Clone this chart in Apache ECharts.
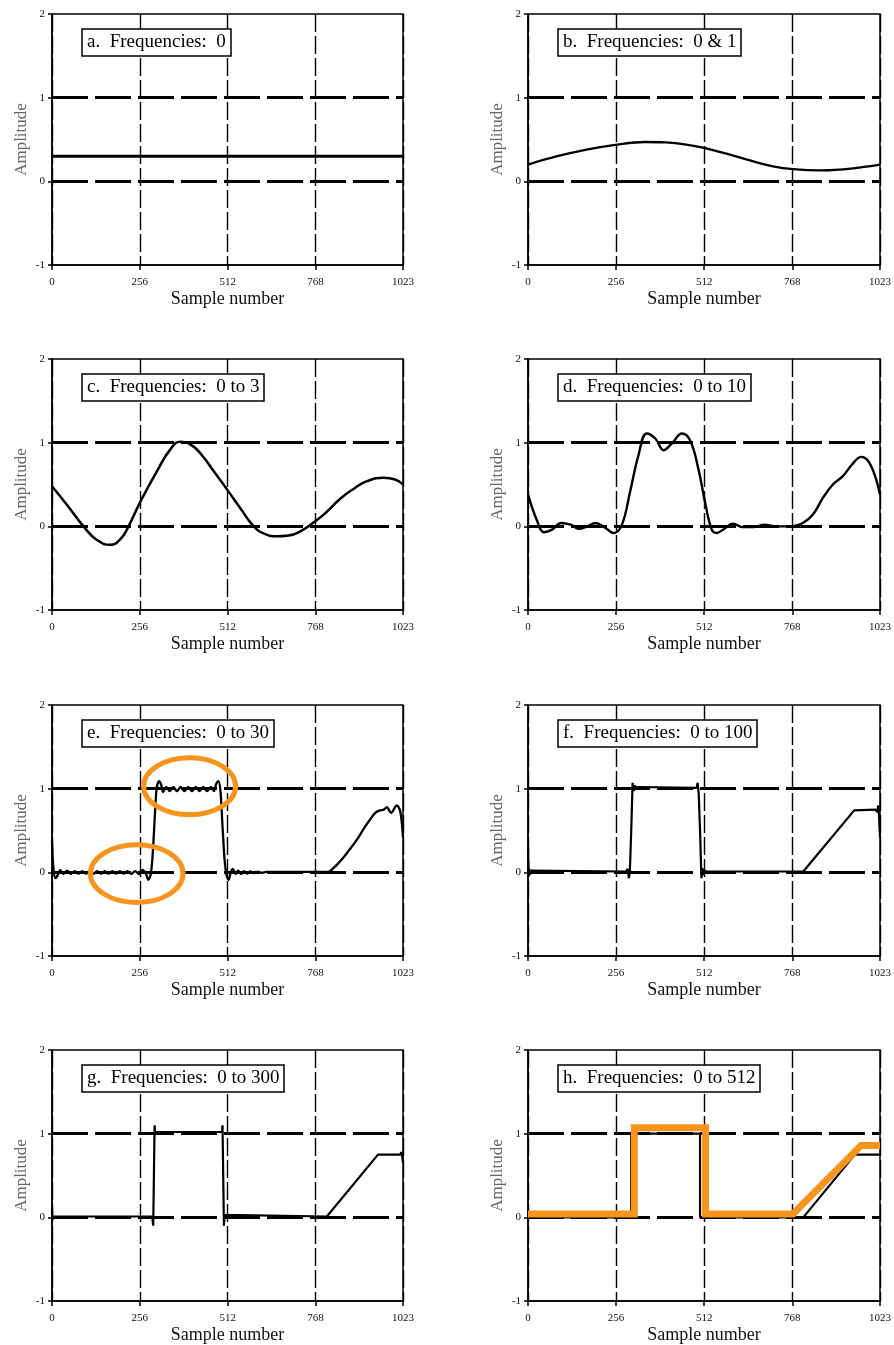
<!DOCTYPE html>
<html><head><meta charset="utf-8">
<script src="https://cdn.jsdelivr.net/npm/echarts@6/dist/echarts.min.js"></script>
<style>html,body{margin:0;padding:0;background:#fff}#c{width:894px;height:1345px}</style>
</head><body><div id="c"></div>
<script>
// ---- data ----
const xTickValues = [0, 256, 512, 768, 1023];
const yTickValues = [-1, 0, 1, 2];
const referenceLevels = [0, 1];
const panelTitles = [
  'a.  Frequencies:  0', 'b.  Frequencies:  0 & 1',
  'c.  Frequencies:  0 to 3', 'd.  Frequencies:  0 to 10',
  'e.  Frequencies:  0 to 30', 'f.  Frequencies:  0 to 100',
  'g.  Frequencies:  0 to 300', 'h.  Frequencies:  0 to 512'
];
const sigA = [[0,0.30],[256,0.30],[512,0.30],[768,0.30],[1023,0.30]];
const sigB = [[0,0.20],[85,0.30],[170,0.38],[259,0.44],[340,0.47],[400,0.465],[460,0.44],[512,0.40],[577,0.33],[645,0.25],[712,0.18],[770,0.145],[850,0.13],[905,0.14],[963,0.165],[1023,0.20]];
const sigC = [[0,0.48],[45,0.25],[92,0.0],[130,-0.16],[170,-0.22],[200,-0.15],[223,0],[257,0.29],[306,0.66],[345,0.92],[374,1.01],[403,0.98],[437,0.85],[471,0.66],[512,0.43],[550,0.21],[588,0],[620,-0.09],[656,-0.12],[690,-0.11],[724,-0.06],[767,0.06],[800,0.17],[840,0.33],[880,0.45],[918,0.54],[967,0.58],[1000,0.56],[1023,0.50]];
const sigD = [[0,0.38],[27,0.06],[46,-0.07],[70,-0.04],[96,0.04],[124,0.02],[148,-0.03],[172,0],[196,0.04],[225,-0.02],[249,-0.08],[273,0.02],[297,0.42],[321,0.85],[345,1.11],[370,1.05],[394,0.91],[418,0.99],[447,1.11],[471,1.03],[495,0.69],[514,0.30],[534,-0.04],[548,-0.08],[567,-0.04],[596,0.03],[625,-0.01],[654,-0.01],[688,0.02],[717,0],[765,0],[799,0.04],[828,0.14],[857,0.34],[886,0.50],[915,0.60],[944,0.75],[968,0.83],[987,0.79],[1007,0.62],[1023,0.38]];
const sigE = [[0,0.38],[4,0.06],[10,-0.07],[17,-0.03],[24,0.03],[33,-0.02],[44,0.02],[55,-0.02],[66,0.015],[77,-0.015],[88,0.015],[99,-0.015],[110,0.015],[121,-0.015],[132,0.015],[143,-0.015],[154,0.015],[165,-0.015],[176,0.015],[187,-0.015],[198,0.015],[209,-0.015],[220,0.015],[231,-0.02],[242,0.015],[253,-0.02],[264,0.03],[273,-0.01],[281,-0.09],[288,-0.02],[294,0.25],[300,0.7],[305,1.0],[312,1.09],[318,1.05],[324,0.96],[333,1.02],[343,0.97],[354,1.02],[364,0.97],[375,1.02],[386,0.97],[397,1.02],[408,0.97],[419,1.02],[430,0.97],[441,1.02],[452,0.97],[463,1.02],[472,0.97],[478,1.05],[485,1.09],[491,0.97],[497,0.55],[503,0.15],[509,-0.04],[515,-0.09],[521,0.0],[527,0.04],[535,-0.02],[543,0.02],[551,-0.02],[560,0.015],[569,-0.015],[578,0.01],[588,-0.01],[600,0.008],[612,-0.005],[625,0.005],[806,0.005],[820,0.05],[835,0.11],[850,0.18],[865,0.26],[880,0.34],[895,0.43],[910,0.53],[925,0.62],[942,0.71],[955,0.74],[967,0.75],[976,0.78],[988,0.71],[1005,0.80],[1015,0.73],[1023,0.42]];
const sigF = [[0,0.30],[2,-0.05],[4,0.04],[6,-0.03],[9,0.02],[12,0.01],[285,0.01],[290,0.04],[293,-0.07],[296,0.0],[300,0.5],[304,1.07],[307,0.97],[310,1.04],[314,1.01],[320,1.02],[490,1.01],[493,1.07],[496,0.95],[500,0.5],[504,-0.07],[507,0.05],[510,-0.03],[514,0.02],[520,0.01],[800,0.01],[948,0.74],[1010,0.75],[1015,0.72],[1018,0.80],[1020,0.68],[1023,0.42]];
const sigG = [[0,0.12],[1,-0.03],[3,0.01],[5,0.01],[292,0.01],[295,-0.1],[297,0.5],[299,1.1],[301,0.99],[303,1.02],[306,1.02],[495,1.02],[497,1.1],[499,0.5],[501,-0.1],[503,0.03],[506,0.01],[801,0.01],[950,0.75],[1015,0.75],[1018,0.78],[1021,0.72],[1023,0.65]];
const sigH = [[0,0],[300,0],[300,1],[500,1],[500,0],[800,0],[950,0.75],[1023,0.75]];
const overlayH = [[0,0.04],[309,0.04],[309,1.07],[516,1.07],[516,0.04],[770,0.04],[968,0.86],[1023,0.86]];
// annotation ellipses on panel e (data units: centre sample, centre amplitude, half width, half height)
const annotE = [
  {x: 401, y: 1.03, hw: 134, hh: 0.34},
  {x: 247, y: -0.015, hw: 135, hh: 0.345}
];

// ---- layout ----
const colLeft = [52, 528], colWidth = [351, 352];
const rowTop = [14, 359, 705, 1050], rowHeight = 251;
const signals = [sigA, sigB, sigC, sigD, sigE, sigF, sigG, sigH];
const smoothFlags = [false, 0.4, 0.5, 0.4, 0.3, false, false, false];
const lineWidths = [3, 2.3, 2.5, 2.4, 2.3, 2.2, 2.2, 2.2];
const FONT = '"Liberation Serif", "Times New Roman", serif';
const ORANGE = '#F7941E';

const grids = [], xAxes = [], yAxes = [], series = [], titles = [];
for (let i = 0; i < 8; i++) {
  const c = i % 2, r = Math.floor(i / 2);
  grids.push({left: colLeft[c], top: rowTop[r], width: colWidth[c], height: rowHeight,
    show: true, borderColor: '#000', borderWidth: 1.5, containLabel: false});
  xAxes.push({type: 'value', gridIndex: i, min: 0, max: 1023, interval: 256,
    name: 'Sample number', nameLocation: 'middle', nameGap: 25,
    nameTextStyle: {fontFamily: FONT, fontSize: 18, color: '#111'},
    axisLine: {show: true, onZero: false, lineStyle: {color: '#000', width: 1.5}},
    axisTick: {show: true, length: 5, customValues: xTickValues, lineStyle: {color: '#000', width: 1.5}},
    axisLabel: {customValues: xTickValues, formatter: v => String(v), fontFamily: FONT, fontSize: 11, color: '#111', margin: 12},
    splitLine: {show: true, lineStyle: {color: '#000', width: 1.4, type: [18, 4]}}
  });
  yAxes.push({type: 'value', gridIndex: i, min: -1, max: 2, interval: 1,
    name: 'Amplitude', nameLocation: 'middle', nameGap: 22, nameRotate: 90,
    nameTextStyle: {fontFamily: FONT, fontSize: 17, color: '#666'},
    axisLine: {show: true, lineStyle: {color: '#000', width: 1.5}},
    axisTick: {show: true, length: 4, lineStyle: {color: '#000', width: 1.5}},
    axisLabel: {formatter: v => String(v), fontFamily: FONT, fontSize: 11, color: '#111', margin: 7},
    splitLine: {show: false}
  });
  titles.push({text: panelTitles[i], left: colLeft[c] + 30, top: rowTop[r] + 15,
    padding: [3, 5], borderColor: '#000', borderWidth: 1.5, backgroundColor: '#fff',
    textStyle: {fontFamily: FONT, fontSize: 19, fontWeight: 'normal', color: '#000', lineHeight: 21}});
  // reference lines at 0 and 1 (drawn beneath the signal)
  series.push({type: 'line', xAxisIndex: i, yAxisIndex: i, data: [], z: 1, silent: true,
    markLine: {silent: true, symbol: ['none', 'none'], label: {show: false}, z: 1,
      lineStyle: {color: '#000', width: 3, type: [36, 7]}, emphasis: {disabled: true},
      data: referenceLevels.map(v => ({yAxis: v}))}
  });
  series.push({type: 'line', xAxisIndex: i, yAxisIndex: i, data: signals[i],
    showSymbol: false, symbol: 'none', smooth: smoothFlags[i], silent: true,
    lineStyle: {color: '#000', width: lineWidths[i]}, z: 3});
}
series.push({type: 'line', xAxisIndex: 7, yAxisIndex: 7, data: overlayH,
  showSymbol: false, symbol: 'none', silent: true, z: 6,
  lineStyle: {color: ORANGE, width: 7, cap: 'butt', join: 'miter'}});

const chart = echarts.init(document.getElementById('c'), null, {renderer: 'canvas'});
chart.setOption({animation: false, backgroundColor: '#fff', title: titles,
  grid: grids, xAxis: xAxes, yAxis: yAxes, series: series});

// annotation ellipses placed through the panel-e coordinate system
const ellipses = annotE.map(a => {
  const c = chart.convertToPixel({gridIndex: 4}, [a.x, a.y]);
  const e = chart.convertToPixel({gridIndex: 4}, [a.x + a.hw, a.y + a.hh]);
  return {type: 'ellipse', silent: true, z: 100,
    shape: {cx: c[0], cy: c[1], rx: Math.abs(e[0] - c[0]), ry: Math.abs(c[1] - e[1])},
    style: {fill: null, stroke: ORANGE, lineWidth: 5}};
});
chart.setOption({graphic: ellipses});
</script></body></html>
